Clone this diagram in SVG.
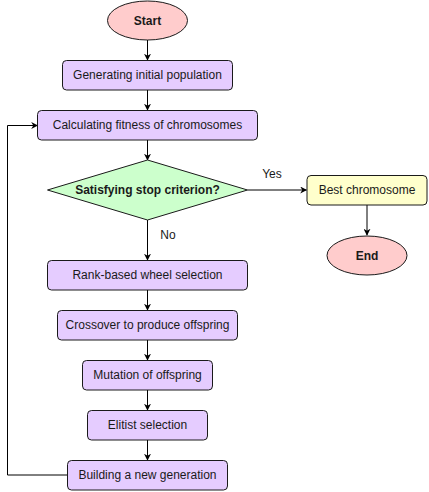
<svg xmlns="http://www.w3.org/2000/svg" width="429" height="492" viewBox="0 0 429 492">
<defs>
<marker id="ah" viewBox="0 0 10 10" refX="9" refY="5" markerWidth="7" markerHeight="7" markerUnits="userSpaceOnUse" orient="auto">
<path d="M0,0 L10,5 L0,10 L3,5 Z" fill="#000"/>
</marker>
<style>
.box{fill:#e5ccff;stroke:#1a1a1a;stroke-width:1}
.t{font-family:"Liberation Sans",Arial,sans-serif;font-size:12px;fill:#1a1a1a;text-anchor:middle;dominant-baseline:central}
.b{font-weight:bold}
.c{fill:none;stroke:#000;stroke-width:1;marker-end:url(#ah)}
</style>
</defs>
<rect width="429" height="492" fill="#fff"/>
<g id="connectors">
<path class="c" d="M147.5,40 V60"/>
<path class="c" d="M147.5,90 V110"/>
<path class="c" d="M147.5,140 V160"/>
<path class="c" d="M247.5,190 H306.5"/>
<path class="c" d="M367,205 V235"/>
<path class="c" d="M147.5,220 V260"/>
<path class="c" d="M147.5,290 V310"/>
<path class="c" d="M147.5,340 V360"/>
<path class="c" d="M147.5,390 V410"/>
<path class="c" d="M147.5,440 V460"/>
<path class="c" d="M67.5,475 H7.5 V125.5 H37.5"/>
<text class="t" x="272" y="174">Yes</text>
<text class="t" x="168" y="235">No</text>
</g>
<g id="start">
<ellipse cx="147.5" cy="20.5" rx="40" ry="19.5" fill="#ffcccc" stroke="#1a1a1a"/>
<text class="t b" x="147.5" y="20.5">Start</text>
</g>
<g id="generate">
<rect class="box" x="62.5" y="60.5" width="170" height="29.5" rx="4"/>
<text class="t" x="147.5" y="75">Generating initial population</text>
</g>
<g id="fitness">
<rect class="box" x="37.5" y="110.5" width="220" height="29.5" rx="4"/>
<text class="t" x="147.5" y="125">Calculating fitness of chromosomes</text>
</g>
<g id="decision">
<path d="M147.5,160 L247.5,190 L147.5,220 L47.5,190 Z" fill="#ccffcc" stroke="#1a1a1a"/>
<text class="t b" x="147.5" y="190">Satisfying stop criterion?</text>
</g>
<g id="best">
<rect x="307" y="175.5" width="120" height="29.5" rx="4" fill="#ffffcc" stroke="#1a1a1a"/>
<text class="t" x="367" y="190">Best chromosome</text>
</g>
<g id="end">
<ellipse cx="367" cy="255.5" rx="40" ry="19.5" fill="#ffcccc" stroke="#1a1a1a"/>
<text class="t b" x="367" y="255.5">End</text>
</g>
<g id="rank">
<rect class="box" x="47.5" y="260.5" width="200" height="29.5" rx="4"/>
<text class="t" x="147.5" y="275">Rank-based wheel selection</text>
</g>
<g id="crossover">
<rect class="box" x="57.5" y="310.5" width="180" height="29.5" rx="4"/>
<text class="t" x="147.5" y="325">Crossover to produce offspring</text>
</g>
<g id="mutation">
<rect class="box" x="82.5" y="360.5" width="130" height="29.5" rx="4"/>
<text class="t" x="147.5" y="375">Mutation of offspring</text>
</g>
<g id="elitist">
<rect class="box" x="87.5" y="410.5" width="120" height="29.5" rx="4"/>
<text class="t" x="147.5" y="425">Elitist selection</text>
</g>
<g id="building">
<rect class="box" x="67.5" y="460.5" width="160" height="29.5" rx="4"/>
<text class="t" x="147.5" y="475">Building a new generation</text>
</g>
</svg>
